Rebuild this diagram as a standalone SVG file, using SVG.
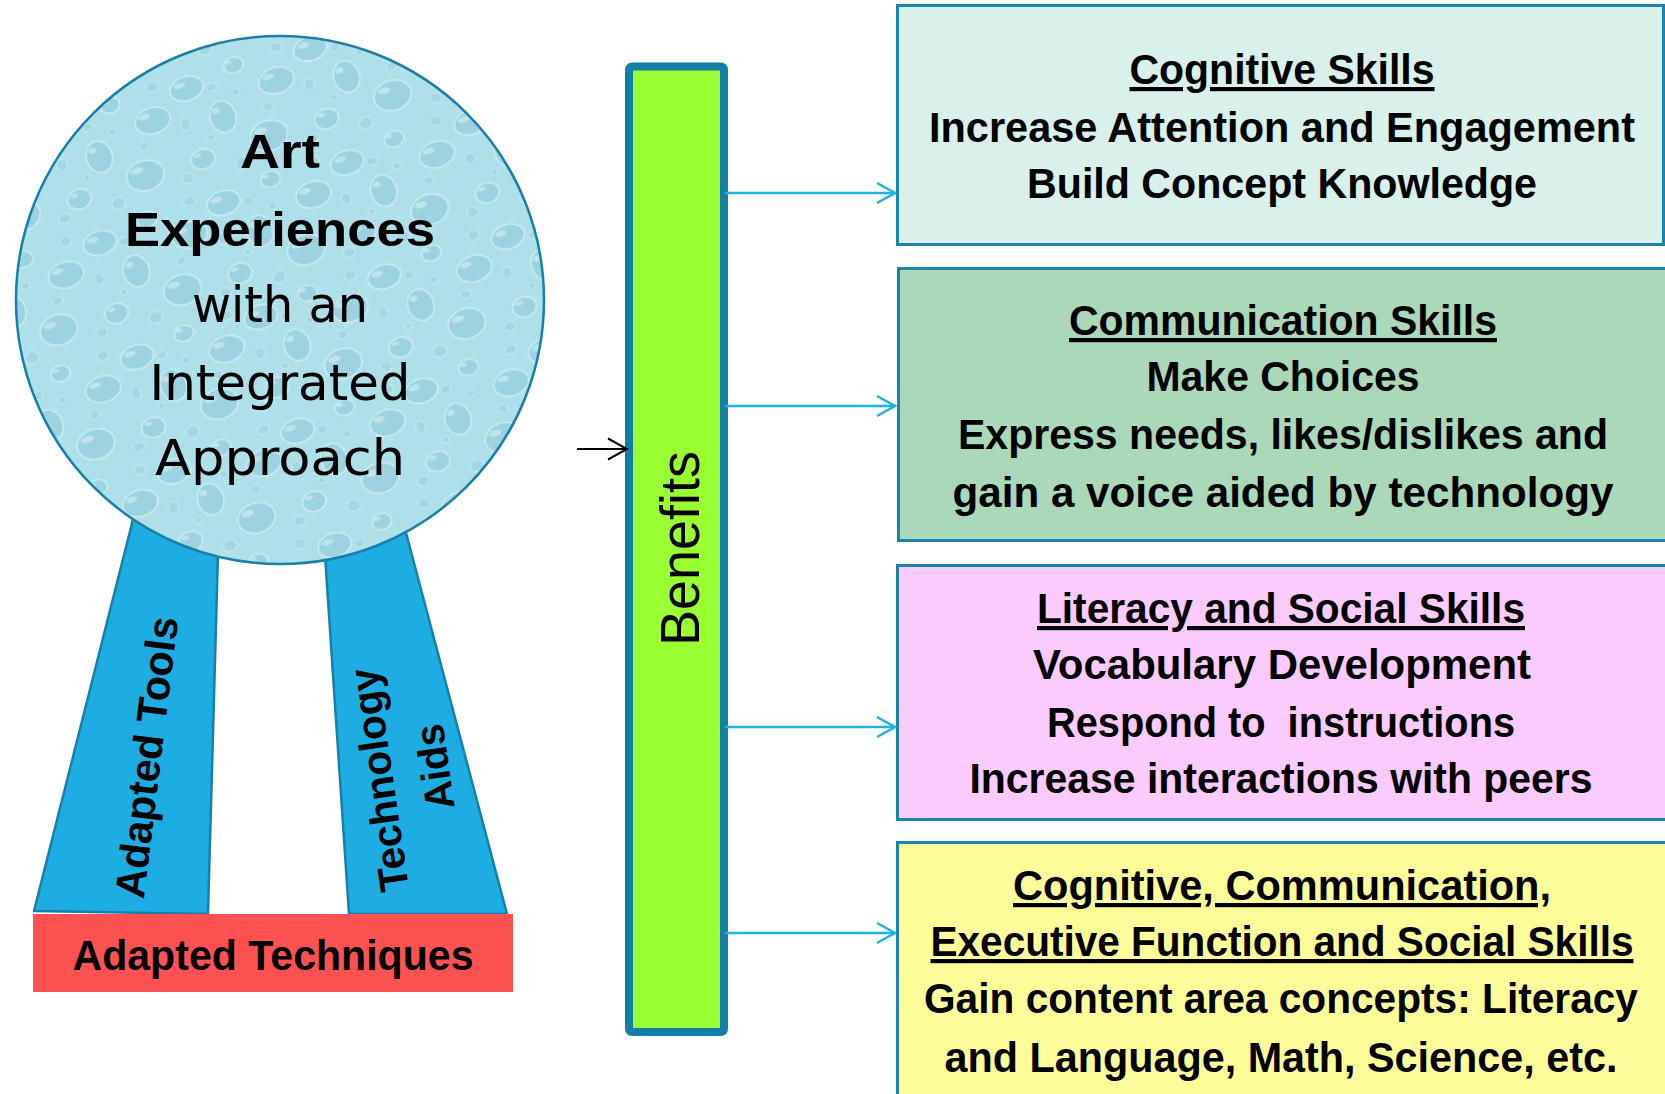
<svg xmlns="http://www.w3.org/2000/svg" width="1665" height="1094" viewBox="0 0 1665 1094">
  <style>
    .bold { font-family: "Liberation Sans", Arial, sans-serif; font-weight: bold; fill: #000; text-anchor: middle; }
    .reg { font-family: "DejaVu Sans", "Liberation Sans", sans-serif; font-weight: normal; fill: #000; text-anchor: middle; }
    .boxtxt { font-size: 42px; }
    .u { text-decoration: underline; text-decoration-skip-ink: none; }
    .box { stroke: #1b84ab; stroke-width: 3; }
    .ribbon { fill: #1eade3; stroke: #1a7fa8; stroke-width: 2.5; stroke-linejoin: round; }
    .drop ellipse { fill: #9dd3e0; stroke: #c9edf4; stroke-width: 1.6; }
    .drop2 ellipse { fill: #a4d7e3; stroke: #c4eaf2; stroke-width: 1.1; }
    .shine ellipse { fill: #e6f8fb; opacity: 0.45; }
    .conn { fill: none; stroke: #1fb0e6; stroke-width: 2.5; marker-end: url(#chevBlue); }
    .conn-in { fill: none; stroke: #000; stroke-width: 2; marker-end: url(#chevBlack); }
  </style>
  <defs>
    <!-- water-drop texture for the medal face -->
    <pattern id="drops" width="130" height="120" patternUnits="userSpaceOnUse" patternTransform="rotate(-18)">
      <rect width="130" height="120" fill="#afe0ea"/>
      <g class="drop">
        <ellipse cx="20" cy="22" rx="17" ry="12"/>
        <ellipse cx="72" cy="14" rx="10" ry="8"/>
        <ellipse cx="108" cy="42" rx="18" ry="13"/>
        <ellipse cx="46" cy="60" rx="13" ry="16"/>
        <ellipse cx="14" cy="94" rx="12" ry="10"/>
        <ellipse cx="84" cy="92" rx="19" ry="15"/>
      </g>
      <g class="drop2">
        <ellipse cx="124" cy="108" rx="6" ry="5"/>
        <ellipse cx="50" cy="110" rx="7" ry="6"/>
        <ellipse cx="92" cy="64" rx="5" ry="4"/>
        <ellipse cx="8" cy="56" rx="5" ry="6"/>
        <ellipse cx="44" cy="28" rx="5" ry="4"/>
        <ellipse cx="118" cy="10" rx="6" ry="5"/>
        <ellipse cx="66" cy="40" rx="4" ry="3.5"/>
        <ellipse cx="28" cy="76" rx="3.5" ry="3"/>
      </g>
      <g class="shine">
        <ellipse cx="14" cy="17" rx="6" ry="3"/>
        <ellipse cx="68" cy="10" rx="3.5" ry="2"/>
        <ellipse cx="101" cy="36" rx="6" ry="3"/>
        <ellipse cx="41" cy="52" rx="4" ry="3"/>
        <ellipse cx="10" cy="89" rx="4" ry="2"/>
        <ellipse cx="77" cy="85" rx="6.5" ry="3.2"/>
      </g>
    </pattern>
    <marker id="chevBlue" markerUnits="userSpaceOnUse" markerWidth="24" markerHeight="24" refX="20" refY="12" orient="auto">
      <path d="M2,2 L20,12 L2,22" fill="none" stroke="#1fb0e6" stroke-width="2.5"/>
    </marker>
    <marker id="chevBlack" markerUnits="userSpaceOnUse" markerWidth="24" markerHeight="24" refX="20" refY="12" orient="auto">
      <path d="M1,1.5 L20,12 L1,22.5" fill="none" stroke="#000" stroke-width="2"/>
    </marker>
  </defs>

  <rect width="1665" height="1094" fill="#ffffff"/>

  <!-- ribbon tails -->
  <g id="node-adapted-tools">
    <polygon class="ribbon" points="143,480 220,480 208,914 34,911"/>
    <text class="bold" font-size="42" textLength="283" lengthAdjust="spacingAndGlyphs" transform="translate(161,759) rotate(-83)">Adapted Tools</text>
  </g>
  <g id="node-technology-aids">
    <polygon class="ribbon" points="320,480 392,480 507,914 349,914"/>
    <g transform="translate(393,778) rotate(-98.2)">
      <text class="bold" font-size="41" x="0" y="0" textLength="225" lengthAdjust="spacingAndGlyphs">Technology</text>
      <text class="bold" font-size="41" x="5" y="57" textLength="86" lengthAdjust="spacingAndGlyphs">Aids</text>
    </g>
  </g>

  <!-- medal face -->
  <g id="node-art-experiences">
    <circle cx="280" cy="300" r="264" fill="url(#drops)" stroke="#1a7fa8" stroke-width="2.5"/>
    <text class="bold" font-size="49" x="280" y="168" textLength="80" lengthAdjust="spacingAndGlyphs">Art</text>
    <text class="bold" font-size="49" x="280" y="246" textLength="310" lengthAdjust="spacingAndGlyphs">Experiences</text>
    <text class="reg" font-size="50" x="280" y="322" textLength="176" lengthAdjust="spacingAndGlyphs">with an</text>
    <text class="reg" font-size="50" x="280" y="400" textLength="261" lengthAdjust="spacingAndGlyphs">Integrated</text>
    <text class="reg" font-size="50" x="280" y="475" textLength="250" lengthAdjust="spacingAndGlyphs">Approach</text>
  </g>

  <!-- base bar -->
  <g id="node-adapted-techniques">
    <rect x="33" y="914" width="480" height="78" fill="#fe5151"/>
    <text class="bold" font-size="43" x="273" y="970" textLength="401" lengthAdjust="spacingAndGlyphs">Adapted Techniques</text>
  </g>

  <!-- central benefits bar -->
  <g id="node-benefits">
    <rect x="629" y="66.5" width="95" height="965.5" rx="3" fill="#99ff33" stroke="#137fa8" stroke-width="8"/>
    <text font-family="'Liberation Sans', Arial, sans-serif" font-size="56" fill="#000" text-anchor="middle" textLength="195" lengthAdjust="spacingAndGlyphs" transform="translate(699,548.5) rotate(-90)">Benefits</text>
  </g>

  <!-- benefit boxes -->
  <g id="node-cognitive">
    <rect class="box" x="897.5" y="5.5" width="766" height="239" fill="#daf0eb"/>
    <text class="bold boxtxt u" x="1282" y="84" textLength="305" lengthAdjust="spacingAndGlyphs">Cognitive Skills</text>
    <text class="bold boxtxt" x="1282" y="142" textLength="706" lengthAdjust="spacingAndGlyphs">Increase Attention and Engagement</text>
    <text class="bold boxtxt" x="1282" y="198" textLength="510" lengthAdjust="spacingAndGlyphs">Build Concept Knowledge</text>
  </g>
  <g id="node-communication">
    <rect class="box" x="898.5" y="268.5" width="770" height="272" fill="#aad8b8"/>
    <text class="bold boxtxt u" x="1283" y="335" textLength="428" lengthAdjust="spacingAndGlyphs">Communication Skills</text>
    <text class="bold boxtxt" x="1283" y="391" textLength="273" lengthAdjust="spacingAndGlyphs">Make Choices</text>
    <text class="bold boxtxt" x="1283" y="449" textLength="650" lengthAdjust="spacingAndGlyphs">Express needs, likes/dislikes and</text>
    <text class="bold boxtxt" x="1283" y="507" textLength="661" lengthAdjust="spacingAndGlyphs">gain a voice aided by technology</text>
  </g>
  <g id="node-literacy-social">
    <rect class="box" x="897.5" y="565.5" width="770" height="254" fill="#fccbfd"/>
    <text class="bold boxtxt u" x="1281" y="623" textLength="488" lengthAdjust="spacingAndGlyphs">Literacy and Social Skills</text>
    <text class="bold boxtxt" x="1282" y="679" textLength="498" lengthAdjust="spacingAndGlyphs">Vocabulary Development</text>
    <text class="bold boxtxt" x="1281" y="737" textLength="468" lengthAdjust="spacingAndGlyphs" xml:space="preserve">Respond to  instructions</text>
    <text class="bold boxtxt" x="1281" y="793" textLength="623" lengthAdjust="spacingAndGlyphs">Increase interactions with peers</text>
  </g>
  <g id="node-combined-skills">
    <rect class="box" x="897.5" y="842.5" width="770" height="260" fill="#fdfd9a"/>
    <text class="bold boxtxt u" x="1282" y="900" textLength="538" lengthAdjust="spacingAndGlyphs">Cognitive, Communication,</text>
    <text class="bold boxtxt u" x="1282" y="956" textLength="703" lengthAdjust="spacingAndGlyphs">Executive Function and Social Skills</text>
    <text class="bold boxtxt" x="1281" y="1013" textLength="714" lengthAdjust="spacingAndGlyphs">Gain content area concepts: Literacy</text>
    <text class="bold boxtxt" x="1281" y="1072" textLength="673" lengthAdjust="spacingAndGlyphs">and Language, Math, Science, etc.</text>
  </g>

  <!-- connectors -->
  <g id="connectors">
    <line class="conn-in" x1="577" y1="449" x2="627" y2="449"/>
    <line class="conn" x1="725" y1="193" x2="895" y2="193"/>
    <line class="conn" x1="725" y1="406" x2="895" y2="406"/>
    <line class="conn" x1="725" y1="727" x2="895" y2="727"/>
    <line class="conn" x1="725" y1="933" x2="895" y2="933"/>
  </g>
</svg>
